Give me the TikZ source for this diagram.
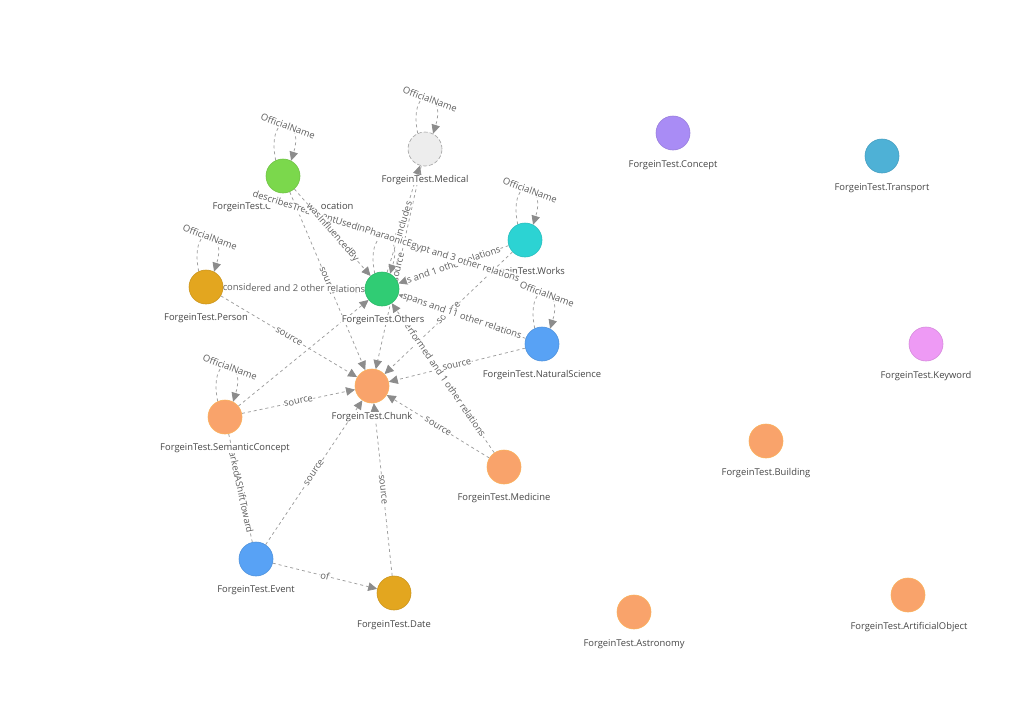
\documentclass[tikz,border=0pt]{standalone}
\usepackage{fontspec}
\setmainfont{Open Sans}
\usetikzlibrary{arrows.meta}
\pgfdeclarelayer{bgbg}
\pgfdeclarelayer{bg}
\pgfsetlayers{bgbg,bg,main}
\definecolor{cLime}{HTML}{7BD84C}
\definecolor{cGreen}{HTML}{30CC74}
\definecolor{cCyan}{HTML}{2CD3D3}
\definecolor{cAmber}{HTML}{E3A61F}
\definecolor{cOrange}{HTML}{F9A36B}
\definecolor{cBlue}{HTML}{58A2F5}
\definecolor{cPurple}{HTML}{A98CF5}
\definecolor{cTeal}{HTML}{4EB1D6}
\definecolor{cPink}{HTML}{EE9AF5}
\definecolor{cGrayFill}{HTML}{EDEDED}
\definecolor{cGrayBorder}{HTML}{A0A0A0}
\definecolor{lineGray}{HTML}{9E9E9E}
\definecolor{arrowGray}{HTML}{8C8C8C}
\definecolor{labGray}{HTML}{474747}
\definecolor{edgeTxt}{HTML}{5E5E5E}
\begin{document}
\begin{tikzpicture}[x=1pt,y=-1pt,
  ent/.style={circle,minimum size=34pt,inner sep=0pt,line width=0.6pt},
  nlab/.style={font=\fontsize{9.4}{11}\selectfont,text=labGray,inner sep=0.6pt,fill=white},
  elab/.style={font=\fontsize{9.4}{11}\selectfont,text=edgeTxt,inner sep=0.4pt,fill=white,sloped},
  llab/.style={font=\fontsize{9.4}{11}\selectfont,text=edgeTxt,inner sep=0.4pt,fill=white,rotate=-20},
  edge/.style={draw=lineGray,line width=0.75pt,dash pattern=on 3pt off 3pt},
  arr/.style={edge,-{Triangle[length=9pt,width=8.5pt,color=arrowGray]}}
]
\useasboundingbox (0,0) rectangle (1013,718);
% nodes
\node[ent,fill=cLime,draw=cLime!90!black] (loc) at (283,176) {};
\node[ent,fill=cGrayFill,draw=cGrayBorder,dash pattern=on 4pt off 2pt] (med) at (425,149) {};
\node[ent,fill=cCyan,draw=cCyan!90!black] (wrk) at (525,240) {};
\node[ent,fill=cAmber,draw=cAmber!90!black] (per) at (206,287) {};
\node[ent,fill=cGreen,draw=cGreen!90!black] (oth) at (382,289) {};
\node[ent,fill=cBlue,draw=cBlue!90!black] (ns) at (542,344) {};
\node[ent,fill=cOrange,draw=cOrange!85!yellow] (chk) at (372,386) {};
\node[ent,fill=cOrange,draw=cOrange!85!yellow] (sem) at (225,417) {};
\node[ent,fill=cOrange,draw=cOrange!85!yellow] (medi) at (504,467) {};
\node[ent,fill=cBlue,draw=cBlue!90!black] (evt) at (256,559) {};
\node[ent,fill=cAmber,draw=cAmber!90!black] (dat) at (394,593) {};
\node[ent,fill=cPurple,draw=cPurple!90!black] (con) at (673,133) {};
\node[ent,fill=cTeal,draw=cTeal!90!black] (tra) at (882,156) {};
\node[ent,fill=cPink,draw=cPink!90!black] (kw) at (926,344) {};
\node[ent,fill=cOrange,draw=cOrange!85!yellow] (bld) at (766,441) {};
\node[ent,fill=cOrange,draw=cOrange!85!yellow] (ast) at (634,612) {};
\node[ent,fill=cOrange,draw=cOrange!85!yellow] (art) at (908,595) {};
% node labels
\node[nlab] (med-l) at (425,180) {ForgeinTest.Medical};
\node[nlab] (per-l) at (206,318) {ForgeinTest.Person};
\node[nlab] (oth-l) at (383,320) {ForgeinTest.Others};
\node[nlab] (ns-l) at (542,375) {ForgeinTest.NaturalScience};
\node[nlab] (chk-l) at (372,417) {ForgeinTest.Chunk};
\node[nlab] (sem-l) at (225,448) {ForgeinTest.SemanticConcept};
\node[nlab] (medi-l) at (504,498) {ForgeinTest.Medicine};
\node[nlab] (evt-l) at (256,590) {ForgeinTest.Event};
\node[nlab] (dat-l) at (394,625) {ForgeinTest.Date};
\node[nlab] (con-l) at (673,165) {ForgeinTest.Concept};
\node[nlab] (tra-l) at (882,188) {ForgeinTest.Transport};
\node[nlab] (kw-l) at (926,376) {ForgeinTest.Keyword};
\node[nlab] (bld-l) at (766,473) {ForgeinTest.Building};
\node[nlab] (ast-l) at (634,644) {ForgeinTest.Astronomy};
\node[nlab] (art-l) at (909,627) {ForgeinTest.ArtificialObject};
\begin{pgfonlayer}{bgbg}
\fill[white] (0,0) rectangle (1013,718);
\node[nlab] (loc-l) at (283,207) {ForgeinTest.C\hspace{50pt}ocation};
\node[nlab] (wrk-l) at (525,272) {ForgeinTest.Works};
\end{pgfonlayer}
\begin{pgfonlayer}{bg}
% connectors
\draw[arr] (loc) -- (oth);
\draw[arr] (loc) -- (chk);
\draw[arr] (oth) -- (med);
\draw[arr] (med) -- (chk);
\draw[arr] (per) -- (oth);
\draw[arr] (per) -- (chk);
\draw[arr] (sem) -- (oth);
\draw[arr] (sem) -- (chk);
\draw[edge] (sem) -- (evt);
\draw[arr] (evt) -- (chk);
\draw[arr] (evt) -- (dat);
\draw[arr] (dat) -- (chk);
\draw[arr] (medi) -- (chk);
\draw[arr] (medi) -- (oth);
\draw[arr] (ns) -- (chk);
\draw[arr] (ns) -- (oth);
\draw[arr] (wrk) -- (oth);
\draw[arr] (wrk) -- (chk);
% self loops
\draw[arr] (loc.115) .. controls +(-10,-50) and +(14,-46) .. (loc.62);
\draw[arr] (med.115) .. controls +(-10,-50) and +(14,-46) .. (med.62);
\draw[arr] (wrk.115) .. controls +(-10,-50) and +(14,-46) .. (wrk.62);
\draw[arr] (per.115) .. controls +(-10,-50) and +(14,-46) .. (per.62);
\draw[arr] (sem.115) .. controls +(-10,-50) and +(14,-46) .. (sem.62);
\draw[arr] (ns.115) .. controls +(-10,-50) and +(14,-46) .. (ns.62);
\draw[arr] (oth.115) .. controls +(-10,-50) and +(14,-46) .. (oth.62);
% loop labels
\node[llab] (ns-loop) at (547,294) {OfficialName};
\node[llab] (loc-loop) at (288,126) {OfficialName};
\node[llab] (med-loop) at (430,99) {OfficialName};
\node[llab] (wrk-loop) at (530,190) {OfficialName};
\node[llab] (per-loop) at (210,237) {OfficialName};
\node[llab] (sem-loop) at (230,367) {OfficialName};
% connector labels
\path (loc) -- node[elab] (t-loc-chk) {source} (chk);
\path (per) -- node[elab] (t-per-oth) {considered and 2 other relations} (oth);
\path (per) -- node[elab] (t-per-chk) {source} (chk);
\path (sem) -- node[elab] (t-sem-chk) {source} (chk);
\path (sem) -- node[elab] (t-sem-evt) {markedAShiftToward} (evt);
\path (evt) -- node[elab] (t-evt-chk) {source} (chk);
\path (evt) -- node[elab] (t-evt-dat) {of} (dat);
\path (dat) -- node[elab] (t-dat-chk) {source} (chk);
\path (medi) -- node[elab] (t-medi-chk) {source} (chk);
\path (wrk) -- node[elab] (t-wrk-chk) {source} (chk);
\path (ns) -- node[elab] (t-ns-chk) {source} (chk);
\path (wrk) -- node[elab] (t-wrk-oth) {s and 1 other relations} (oth);
\node[llab,rotate=2.2] (oth-loop) at (386,237) {describesTreatmentUsedInPharaonicEgypt and 3 other relations};
\path (loc) -- node[elab] (t-loc-oth) {wasInfluencedBy} (oth);
\path (med) -- node[elab] (t-med-chk) {source} (chk);
\path (oth) -- node[elab] (t-oth-med) {includes} (med);
\path (ns) -- node[elab] (t-ns-oth) {spans and 11 other relations} (oth);
\path (medi) -- node[elab] (t-medi-oth) {performed and 1 other relations} (oth);
\end{pgfonlayer}
\end{tikzpicture}
\end{document}
